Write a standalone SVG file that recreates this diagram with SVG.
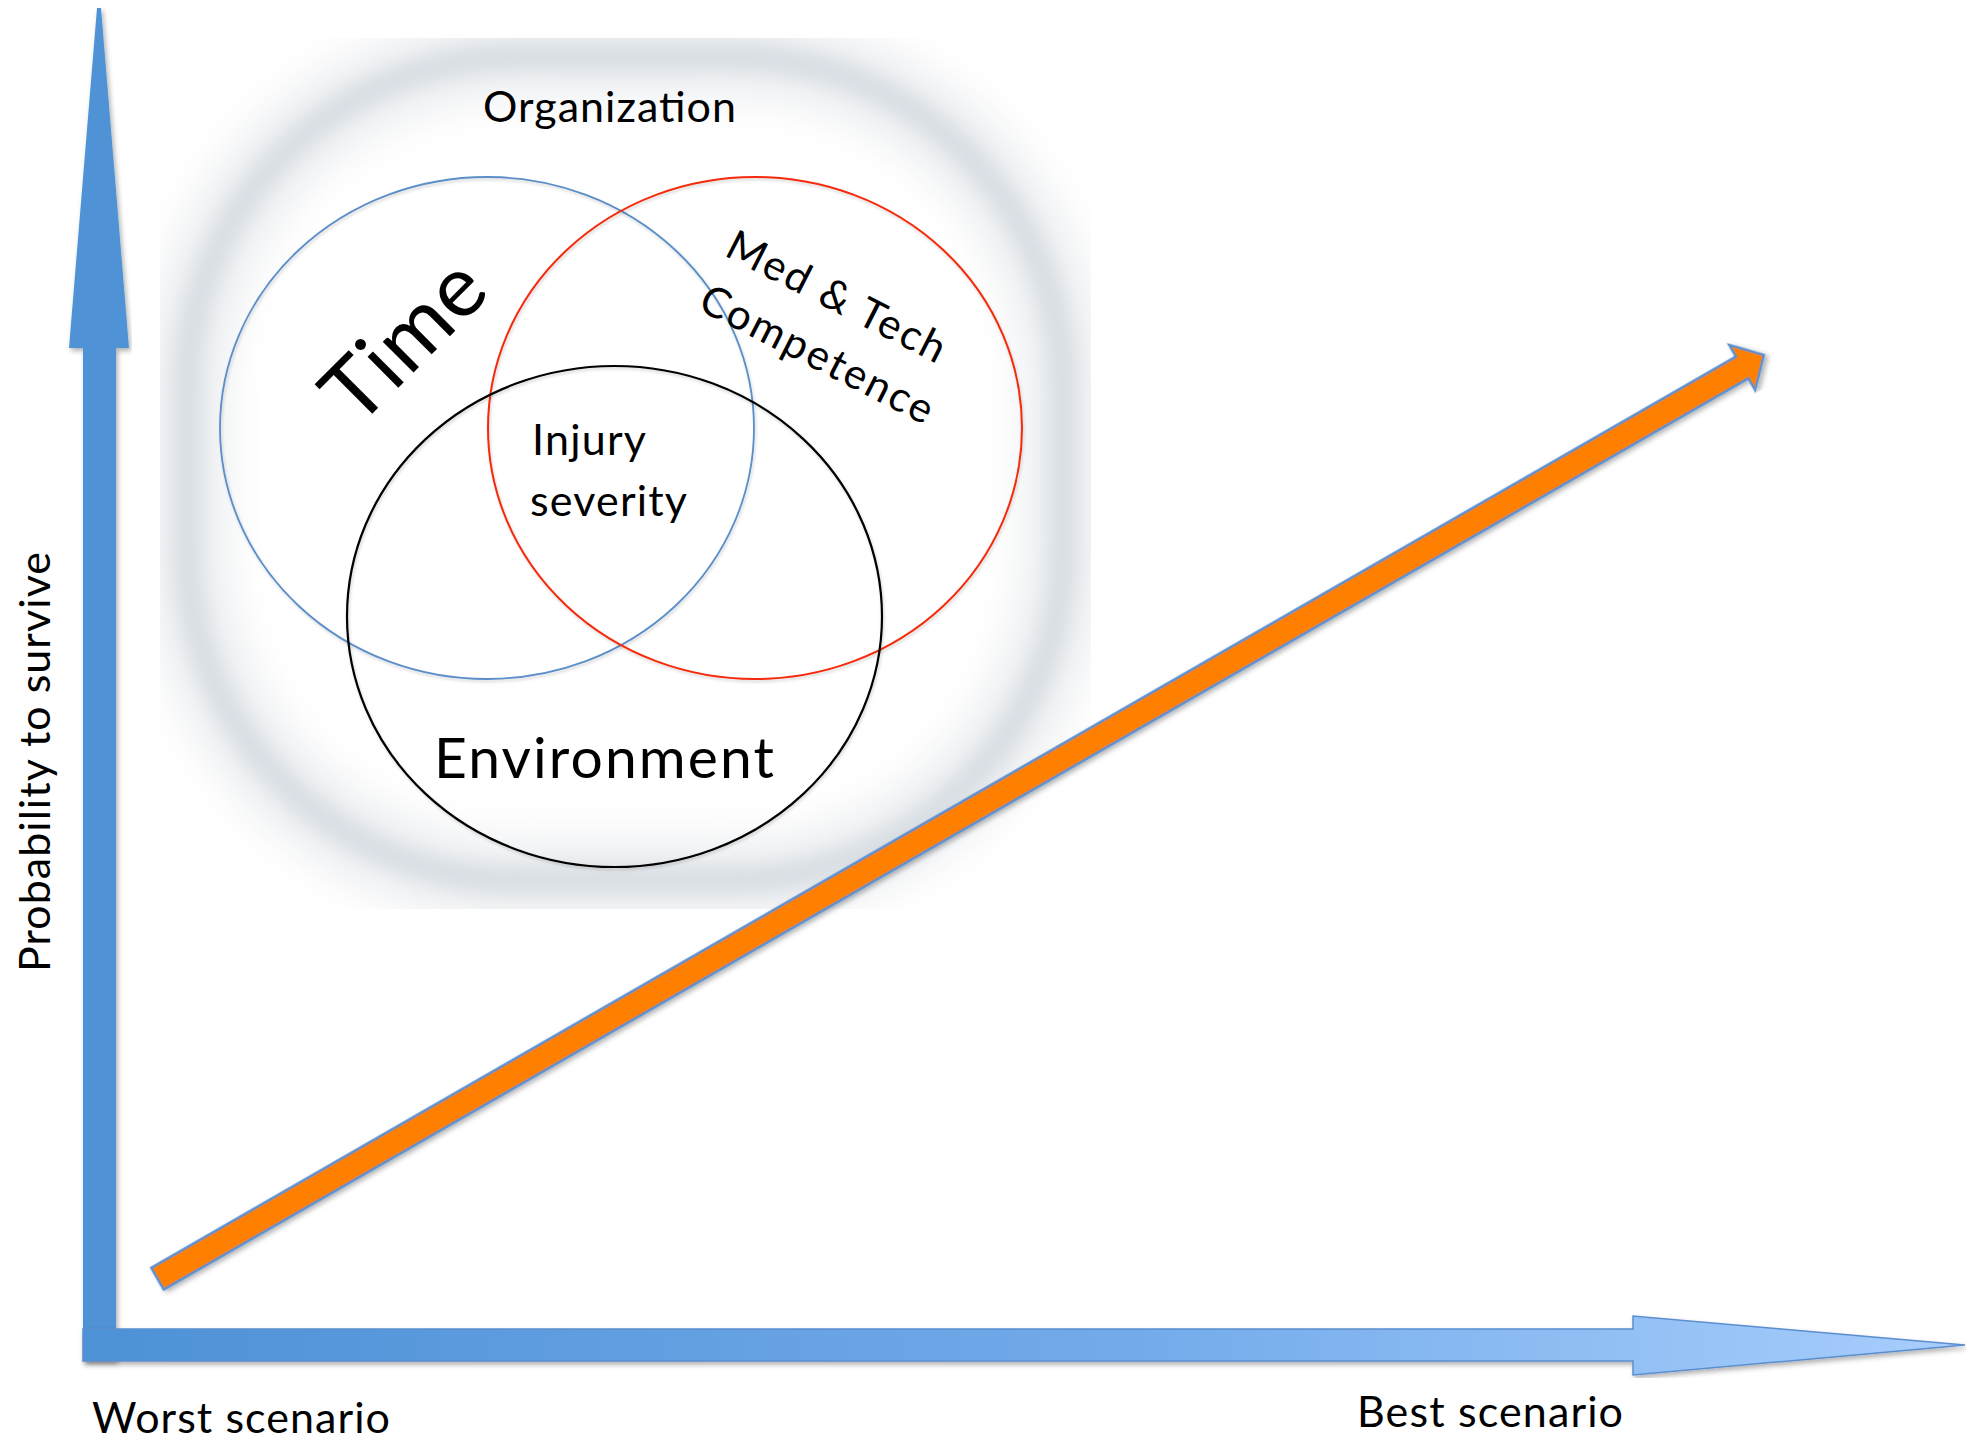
<svg xmlns="http://www.w3.org/2000/svg" width="1966" height="1446" viewBox="0 0 1966 1446">
  <style>
    .lbl { font-family: Lato, "Open Sans", "Liberation Sans", sans-serif; fill: #000; }
    .venn { fill: none; }
  </style>
  <defs>
    <linearGradient id="xAxisFill" gradientUnits="userSpaceOnUse" x1="83" y1="0" x2="1965" y2="0">
      <stop offset="0" stop-color="#4d91d6"/>
      <stop offset="0.55" stop-color="#72aaea"/>
      <stop offset="1" stop-color="#a8cefc"/>
    </linearGradient>
    <filter id="shadow" x="-5%" y="-5%" width="110%" height="110%">
      <feDropShadow dx="2" dy="3" stdDeviation="2.5" flood-color="#000" flood-opacity="0.3"/>
    </filter>
    <filter id="lineShadow" x="-5%" y="-5%" width="110%" height="110%">
      <feDropShadow dx="1" dy="2" stdDeviation="1.5" flood-color="#000" flood-opacity="0.18"/>
    </filter>
    <filter id="wideGlow" x="-20%" y="-20%" width="140%" height="140%">
      <feGaussianBlur stdDeviation="20"/>
    </filter>
    <filter id="ringGlow" x="-20%" y="-20%" width="140%" height="140%">
      <feGaussianBlur stdDeviation="10"/>
    </filter>
    <clipPath id="haloClip">
      <rect x="160" y="38" width="931" height="871"/>
    </clipPath>
  </defs>

  <!-- soft grey ring standing for the organisation around the Venn diagram -->
  <g id="organization-halo" clip-path="url(#haloClip)">
    <rect x="187" y="57" width="876" height="823" rx="330" fill="none" stroke="#eceef0" stroke-width="80" filter="url(#wideGlow)"/>
    <rect x="187" y="57" width="876" height="823" rx="330" fill="none" stroke="#d5dce2" stroke-width="24" filter="url(#ringGlow)"/>
  </g>

  <!-- axes -->
  <g id="axes">
    <g id="y-axis">
      <polygon points="97,8 101,8 129,348 116,348 116,1361 83,1361 83,348 69,348" fill="#4f93d6" filter="url(#shadow)"/>
    </g>
    <g id="x-axis">
      <polygon points="83,1329 1633,1329 1633,1316 1965,1345 1633,1375 1633,1361 83,1361" fill="url(#xAxisFill)" stroke="#5a8ed0" stroke-width="1.5" filter="url(#shadow)"/>
    </g>
  </g>

  <!-- trend arrow from worst to best scenario -->
  <g id="connectors">
    <g transform="translate(157.5,1278.7) rotate(-29.9)" filter="url(#shadow)">
      <polygon points="0,-12.5 1828,-12.5 1828,-26 1853,0 1828,26 1828,12.5 0,12.5" fill="#ff7f00" stroke="#5a8fd0" stroke-width="2.5" stroke-linejoin="miter"/>
    </g>
  </g>

  <!-- Venn circles -->
  <g id="time-circle">
    <ellipse class="venn" cx="487" cy="428" rx="267" ry="251" stroke="#5b8ec8" stroke-width="1.8" filter="url(#lineShadow)"/>
  </g>
  <g id="competence-circle">
    <ellipse class="venn" cx="755" cy="428" rx="267" ry="251" stroke="#f52a0a" stroke-width="2" filter="url(#lineShadow)"/>
  </g>
  <g id="environment-circle">
    <ellipse class="venn" cx="614.5" cy="616.5" rx="267.5" ry="250.5" stroke="#000" stroke-width="2.2" filter="url(#lineShadow)"/>
  </g>

  <!-- labels -->
  <g id="organization-label">
    <text class="lbl" x="609.5" y="122" font-size="43" text-anchor="middle" textLength="253">Organization</text>
  </g>
  <g id="time-label">
    <text class="lbl" x="424.7" y="361.3" font-size="86" text-anchor="middle" textLength="191" transform="rotate(-45 424.7 361.3)">Time</text>
  </g>
  <g id="competence-label">
    <text class="lbl" x="830" y="309.5" font-size="42" text-anchor="middle" textLength="240" transform="rotate(27 830 309.5)">Med &amp; Tech</text>
    <text class="lbl" x="810.5" y="367" font-size="42" text-anchor="middle" textLength="256" transform="rotate(27 810.5 367)">Competence</text>
  </g>
  <g id="injury-label">
    <text class="lbl" x="532" y="455" font-size="43" textLength="114">Injury</text>
    <text class="lbl" x="530" y="516" font-size="43" textLength="157">severity</text>
  </g>
  <g id="environment-label">
    <text class="lbl" x="434" y="778" font-size="57" textLength="340">Environment</text>
  </g>
  <g id="axis-labels">
    <text class="lbl" x="50" y="972" font-size="43" textLength="420" transform="rotate(-90 50 972)">Probability to survive</text>
    <text class="lbl" x="92" y="1433" font-size="43" textLength="298">Worst scenario</text>
    <text class="lbl" x="1357" y="1427" font-size="43" textLength="266">Best scenario</text>
  </g>
</svg>
